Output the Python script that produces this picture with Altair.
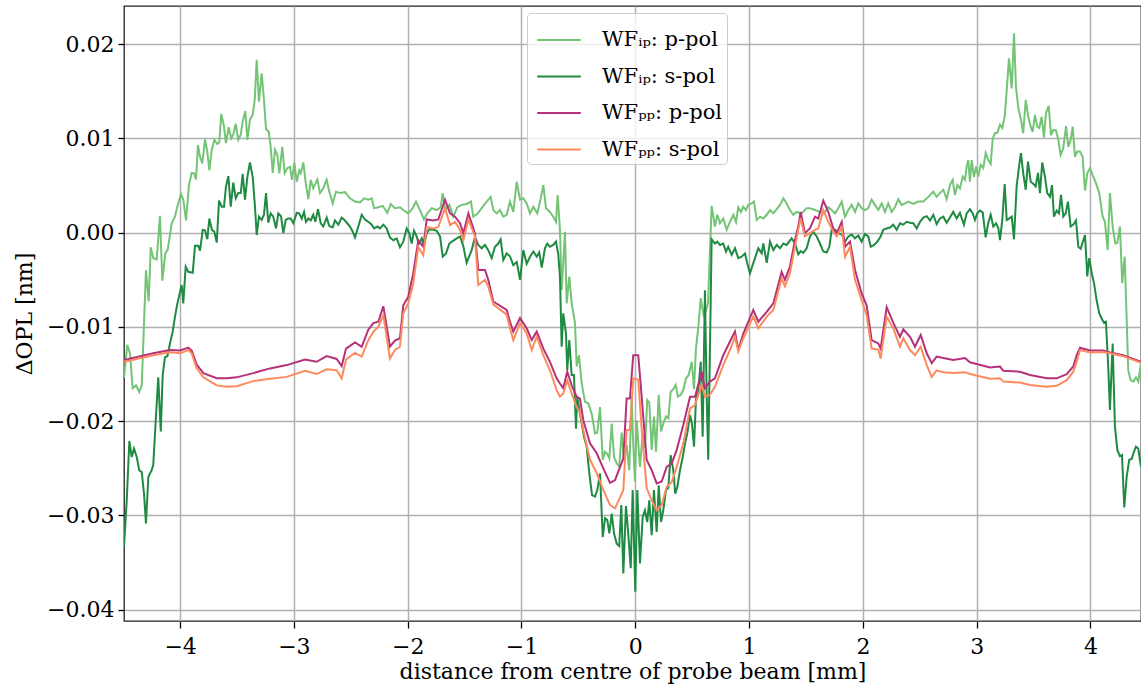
import altair as alt
import pandas as pd

# WF_ip, p-pol : (distance [mm], dOPL [nm])
IP_P = [
(-4.493, -0.0154), (-4.464, -0.0119), (-4.440, -0.0128), (-4.417, -0.0165), (-4.387, -0.0162), (-4.359, -0.0169), (-4.337, -0.0162), (-4.300, -0.0040), (-4.276, -0.0073), (-4.258, -0.00155),
(-4.236, -0.0027), (-4.206, -0.00285), (-4.177, 0.00177), (-4.156, -0.0051), (-4.130, -0.0022), (-4.109, -0.0018), (-4.074, 0.0010), (-4.045, 0.0017), (-4.025, 0.00275), (-3.992, 0.0041),
(-3.972, 0.0035), (-3.948, 0.0013), (-3.922, 0.00505), (-3.898, 0.00635), (-3.878, 0.0063), (-3.860, 0.00565), (-3.843, 0.0093), (-3.825, 0.00805), (-3.805, 0.00735), (-3.781, 0.0099),
(-3.761, 0.0086), (-3.743, 0.0066), (-3.722, 0.0088), (-3.699, 0.00985), (-3.673, 0.0094), (-3.656, 0.0096), (-3.638, 0.0126), (-3.614, 0.01125), (-3.597, 0.0095), (-3.573, 0.0112),
(-3.550, 0.0100), (-3.533, 0.0104), (-3.511, 0.01155), (-3.489, 0.00985), (-3.467, 0.0104), (-3.450, 0.0118), (-3.427, 0.0129), (-3.409, 0.00985), (-3.386, 0.0120), (-3.362, 0.0125),
(-3.344, 0.0141), (-3.327, 0.01835), (-3.307, 0.0139), (-3.283, 0.0169), (-3.263, 0.0141), (-3.245, 0.0110), (-3.221, 0.0107), (-3.204, 0.0091), (-3.186, 0.00635), (-3.166, 0.0088),
(-3.146, 0.0083), (-3.128, 0.0063), (-3.102, 0.0091), (-3.081, 0.0063), (-3.058, 0.00685), (-3.034, 0.0070), (-3.017, 0.0056), (-2.996, 0.0074), (-2.975, 0.0054), (-2.953, 0.0066),
(-2.940, 0.0063), (-2.917, 0.00745), (-2.896, 0.00525), (-2.873, 0.00355), (-2.852, 0.0056), (-2.830, 0.0047), (-2.794, 0.00565), (-2.771, 0.0042), (-2.747, 0.0046), (-2.712, 0.0056),
(-2.689, 0.00435), (-2.659, 0.0031), (-2.630, 0.00435), (-2.595, 0.0042), (-2.551, 0.0043), (-2.507, 0.00365), (-2.463, 0.0033), (-2.419, 0.0032), (-2.384, 0.00365), (-2.346, 0.0035),
(-2.316, 0.00365), (-2.296, 0.0026), (-2.258, 0.0027), (-2.220, 0.00285), (-2.179, 0.0021), (-2.149, 0.00305), (-2.112, 0.0026), (-2.068, 0.0027), (-2.039, 0.0024), (-1.995, 0.00205),
(-1.956, 0.0026), (-1.927, 0.0033), (-1.892, 0.0024), (-1.857, 0.0014), (-1.828, 0.00205), (-1.789, 0.0026), (-1.745, 0.0024), (-1.710, 0.0027), (-1.692, 0.0042), (-1.672, 0.0024),
(-1.634, 0.00295), (-1.599, 0.0017), (-1.564, 0.0027), (-1.525, 0.00295), (-1.482, 0.00305), (-1.444, 0.0033), (-1.424, 0.0017), (-1.388, 0.0020), (-1.350, 0.0026), (-1.306, 0.0033),
(-1.271, 0.0038), (-1.248, 0.0024), (-1.218, 0.00205), (-1.189, 0.0024), (-1.160, 0.0017), (-1.130, 0.0019), (-1.101, 0.0033), (-1.072, 0.0022), (-1.042, 0.0054), (-1.013, 0.0035),
(-0.984, 0.00365), (-0.954, 0.0031), (-0.925, 0.00205), (-0.896, 0.00275), (-0.861, 0.00205), (-0.837, 0.0033), (-0.808, 0.00505), (-0.785, 0.0026), (-0.750, 0.0022), (-0.721, 0.0017),
(-0.697, 0.00115), (-0.682, 0.0040), (-0.662, 0.0003), (-0.647, -0.0061), (-0.633, -0.00325), (-0.618, 0.0001), (-0.603, -0.0075), (-0.580, -0.00465), (-0.559, -0.0075), (-0.530, -0.0096),
(-0.515, -0.0142), (-0.495, -0.0130), (-0.471, -0.0160), (-0.442, -0.01795), (-0.413, -0.0181), (-0.383, -0.0192), (-0.354, -0.0213), (-0.334, -0.0212), (-0.310, -0.0185), (-0.286, -0.0241),
(-0.266, -0.02325), (-0.246, -0.0235), (-0.228, -0.02395), (-0.207, -0.02025), (-0.187, -0.0238), (-0.163, -0.0245), (-0.141, -0.02485), (-0.120, -0.0212), (-0.099, -0.0241), (-0.076, -0.02255),
(-0.053, -0.0252), (-0.032, -0.01775), (-0.018, -0.02235), (-0.003, -0.0264), (0.012, -0.0199), (0.041, -0.02485), (0.065, -0.0213), (0.085, -0.0229), (0.105, -0.01775), (0.123, -0.0180),
(0.144, -0.02305), (0.164, -0.0195), (0.182, -0.02325), (0.206, -0.0172), (0.226, -0.0211), (0.246, -0.02025), (0.270, -0.0195), (0.290, -0.0197), (0.311, -0.0169), (0.334, -0.0166),
(0.355, -0.01615), (0.375, -0.0174), (0.399, -0.0172), (0.422, -0.0167), (0.446, -0.01545), (0.469, -0.0151), (0.496, -0.0137), (0.516, -0.0166), (0.533, -0.0123), (0.554, -0.0100),
(0.575, -0.00695), (0.604, -0.0090), (0.639, -0.0075), (0.671, 0.00285), (0.700, 0.00065), (0.721, 0.0019), (0.744, 0.0010), (0.773, 0.0015), (0.803, 0.0003), (0.832, 0.00115),
(0.861, 0.0019), (0.885, 0.00115), (0.905, 0.0027), (0.929, 0.0022), (0.949, 0.00275), (0.973, 0.0024), (0.993, 0.00295), (1.023, 0.0031), (1.043, 0.0033), (1.067, 0.00135),
(1.096, 0.0017), (1.125, 0.0015), (1.155, 0.0019), (1.184, 0.0024), (1.213, 0.00205), (1.243, 0.0025), (1.272, 0.00295), (1.301, 0.00365), (1.330, 0.0031), (1.359, 0.0024),
(1.388, 0.0019), (1.418, 0.0022), (1.462, 0.00205), (1.506, 0.0026), (1.535, 0.0026), (1.579, 0.0024), (1.623, 0.0022), (1.667, 0.0022), (1.696, 0.0027), (1.726, 0.0024),
(1.755, 0.00205), (1.784, 0.0026), (1.814, 0.0033), (1.843, 0.0017), (1.872, 0.0024), (1.902, 0.00295), (1.931, 0.0022), (1.960, 0.0031), (1.989, 0.0026), (2.018, 0.0024),
(2.047, 0.0026), (2.077, 0.0035), (2.106, 0.00295), (2.135, 0.0024), (2.165, 0.0031), (2.194, 0.0022), (2.223, 0.0031), (2.253, 0.0022), (2.282, 0.0027), (2.311, 0.00355),
(2.341, 0.00295), (2.370, 0.0031), (2.399, 0.0033), (2.443, 0.00305), (2.487, 0.0033), (2.531, 0.0033), (2.575, 0.0038), (2.619, 0.00435), (2.648, 0.0038), (2.677, 0.0042),
(2.707, 0.00455), (2.736, 0.00355), (2.765, 0.00505), (2.789, 0.0056), (2.809, 0.0040), (2.830, 0.00505), (2.853, 0.0047), (2.877, 0.00595), (2.897, 0.0056), (2.912, 0.0070),
(2.926, 0.0077), (2.941, 0.0054), (2.956, 0.0077), (2.976, 0.0059), (2.994, 0.0070), (3.014, 0.00595), (3.035, 0.0072), (3.058, 0.00685), (3.079, 0.00845), (3.102, 0.0077),
(3.123, 0.0073), (3.141, 0.0100), (3.161, 0.01055), (3.181, 0.0106), (3.205, 0.01145), (3.225, 0.0111), (3.246, 0.0123), (3.264, 0.01515), (3.284, 0.0185), (3.308, 0.0153),
(3.328, 0.02115), (3.345, 0.0155), (3.366, 0.0132), (3.387, 0.01215), (3.409, 0.01055), (3.431, 0.0141), (3.453, 0.0123), (3.475, 0.01125), (3.492, 0.0107), (3.512, 0.0125),
(3.533, 0.01125), (3.550, 0.0111), (3.571, 0.0123), (3.591, 0.0101), (3.609, 0.0127), (3.633, 0.01345), (3.653, 0.01035), (3.673, 0.0109), (3.697, 0.01085), (3.717, 0.00985),
(3.738, 0.00825), (3.761, 0.00895), (3.785, 0.0113), (3.805, 0.0091), (3.826, 0.00985), (3.844, 0.01125), (3.864, 0.00805), (3.884, 0.0086), (3.908, 0.0086), (3.931, 0.00805),
(3.952, 0.00445), (3.972, 0.0063), (3.996, 0.00685), (4.019, 0.0061), (4.048, 0.00525), (4.077, 0.0042), (4.107, 0.0017), (4.127, 0.00115), (4.151, -0.00185), (4.171, 0.0042),
(4.195, 0.00065), (4.218, -0.00115), (4.236, -0.0011), (4.259, 0.00065), (4.279, -0.00535), (4.301, -0.00255), (4.332, -0.0146), (4.353, -0.01565), (4.376, -0.0158), (4.400, -0.01535),
(4.420, -0.0158), (4.444, -0.01385),
]

# WF_ip, s-pol
IP_S = [
(-4.493, -0.0333), (-4.469, -0.0284), (-4.446, -0.0221), (-4.425, -0.0238), (-4.405, -0.0229), (-4.381, -0.0238), (-4.359, -0.0252), (-4.337, -0.0254), (-4.317, -0.0277), (-4.300, -0.03085),
(-4.279, -0.0259), (-4.250, -0.0252), (-4.236, -0.02465), (-4.212, -0.0195), (-4.192, -0.01535), (-4.170, -0.0211), (-4.153, -0.0151), (-4.133, -0.0132), (-4.112, -0.0131), (-4.089, -0.01175),
(-4.065, -0.0105), (-4.045, -0.0089), (-4.025, -0.0076), (-4.007, -0.0066), (-3.986, -0.00555), (-3.972, -0.0075), (-3.951, -0.0036), (-3.928, -0.00415), (-3.889, -0.00425), (-3.869, -0.0014),
(-3.840, -0.0014), (-3.825, -0.0019), (-3.801, 0.0003), (-3.781, 0.00025), (-3.761, -0.0007), (-3.743, 0.0015), (-3.720, 0.0003), (-3.699, 0.0001), (-3.678, -0.00105), (-3.658, 0.0034),
(-3.634, 0.00275), (-3.614, 0.00275), (-3.597, 0.0049), (-3.576, 0.0060), (-3.555, 0.00275), (-3.533, 0.0053), (-3.511, 0.00365), (-3.489, 0.0042), (-3.467, 0.0042), (-3.450, 0.00625),
(-3.430, 0.0035), (-3.409, 0.0059), (-3.386, 0.00745), (-3.362, 0.0059), (-3.342, 0.00275), (-3.327, -0.00025), (-3.307, 0.0017), (-3.283, 0.00135), (-3.263, 0.0019), (-3.245, 0.0042),
(-3.225, 0.00105), (-3.204, 0.00205), (-3.181, 0.0017), (-3.157, 0.00045), (-3.137, 0.00205), (-3.113, 0.00175), (-3.093, -0.00005), (-3.072, 0.00135), (-3.049, 0.0015), (-3.028, 0.0015),
(-3.005, 0.0010), (-2.975, 0.0021), (-2.953, 0.00205), (-2.931, 0.0015), (-2.911, 0.0022), (-2.894, 0.00115), (-2.873, 0.0015), (-2.852, 0.0013), (-2.830, 0.0019), (-2.812, 0.00115),
(-2.788, 0.0025), (-2.764, 0.0010), (-2.742, 0.00065), (-2.712, 0.0016), (-2.689, 0.0007), (-2.659, 0.00055), (-2.639, 0.0013), (-2.610, 0.00085), (-2.580, 0.0016), (-2.560, 0.0014),
(-2.531, 0.0010), (-2.507, 0.00065), (-2.483, 0.0001), (-2.463, -0.0005), (-2.434, 0.00065), (-2.404, 0.0019), (-2.375, 0.0014), (-2.346, 0.00115), (-2.316, 0.00085), (-2.296, 0.00045),
(-2.267, 0.00065), (-2.243, 0.00045), (-2.214, 0.00085), (-2.185, 0.00045), (-2.156, -0.0005), (-2.127, -0.0008), (-2.097, -0.0006), (-2.068, -0.00155), (-2.039, -0.00095), (-2.009, 0.00045),
(-1.986, -0.00005), (-1.965, -0.00115), (-1.945, 0.0002), (-1.921, -0.0004), (-1.903, -0.0012), (-1.877, -0.0006), (-1.857, -0.00145), (-1.833, -0.00005), (-1.810, 0.00035), (-1.775, 0.0003),
(-1.745, 0.0002), (-1.716, -0.0004), (-1.692, -0.00255), (-1.663, -0.0022), (-1.634, -0.00115), (-1.599, -0.00085), (-1.569, -0.0006), (-1.540, -0.0004), (-1.511, -0.00145), (-1.482, -0.0032),
(-1.438, -0.00185), (-1.409, -0.0005), (-1.380, -0.0013), (-1.350, -0.00165), (-1.321, -0.0013), (-1.292, -0.00185), (-1.262, -0.0027), (-1.233, -0.0015), (-1.204, -0.00115), (-1.183, -0.0007),
(-1.160, -0.0029), (-1.130, -0.0022), (-1.101, -0.0025), (-1.072, -0.00345), (-1.042, -0.0031), (-1.013, -0.0050), (-0.984, -0.00185), (-0.954, -0.0033), (-0.925, -0.00255), (-0.896, -0.0020),
(-0.866, -0.00255), (-0.844, -0.0021), (-0.822, -0.0037), (-0.794, -0.00165), (-0.773, -0.00115), (-0.750, -0.0015), (-0.721, -0.0013), (-0.697, -0.00095), (-0.677, -0.0023), (-0.662, -0.00465),
(-0.647, -0.0121), (-0.633, -0.00855), (-0.609, -0.0107), (-0.598, -0.0146), (-0.580, -0.0114), (-0.559, -0.0151), (-0.539, -0.0151), (-0.521, -0.0208), (-0.510, -0.0174), (-0.492, -0.0188),
(-0.471, -0.02025), (-0.451, -0.02165), (-0.427, -0.0227), (-0.404, -0.02555), (-0.380, -0.02785), (-0.354, -0.0280), (-0.334, -0.0273), (-0.310, -0.02555), (-0.286, -0.0323), (-0.266, -0.0303),
(-0.246, -0.0305), (-0.228, -0.0319), (-0.207, -0.0298), (-0.187, -0.0319), (-0.163, -0.0330), (-0.141, -0.03325), (-0.123, -0.0289), (-0.105, -0.03615), (-0.082, -0.0290), (-0.062, -0.0319),
(-0.040, -0.0356), (-0.023, -0.0273), (0.000, -0.0381), (0.018, -0.0273), (0.041, -0.0351), (0.065, -0.03015), (0.085, -0.02945), (0.105, -0.0307), (0.123, -0.0284), (0.144, -0.0321),
(0.164, -0.0273), (0.188, -0.03175), (0.206, -0.0268), (0.226, -0.0307), (0.246, -0.02945), (0.270, -0.0273), (0.290, -0.0271), (0.311, -0.0236), (0.334, -0.0252), (0.351, -0.0277),
(0.369, -0.0270), (0.393, -0.0252), (0.417, -0.0238), (0.437, -0.02235), (0.457, -0.0213), (0.481, -0.01935), (0.498, -0.02025), (0.516, -0.0227), (0.533, -0.01775), (0.554, -0.0167),
(0.575, -0.0137), (0.592, -0.02165), (0.612, -0.0061), (0.627, -0.01705), (0.641, -0.0241), (0.671, -0.0007), (0.700, -0.00115), (0.721, -0.00095), (0.744, -0.0013), (0.773, -0.00115),
(0.797, -0.0020), (0.817, -0.0015), (0.847, -0.00235), (0.876, -0.00165), (0.905, -0.0027), (0.935, -0.00255), (0.964, -0.0022), (0.984, -0.00325), (1.008, -0.0043), (1.032, -0.0034),
(1.052, -0.0027), (1.081, -0.00165), (1.111, -0.0022), (1.125, -0.00115), (1.155, -0.0032), (1.184, -0.00095), (1.213, -0.00185), (1.243, -0.0013), (1.272, -0.00165), (1.301, -0.00115),
(1.330, -0.0013), (1.374, -0.0006), (1.403, -0.00115), (1.432, -0.0023), (1.453, -0.00195), (1.476, -0.00215), (1.506, -0.00165), (1.535, -0.0004), (1.564, 0.0001), (1.594, -0.0004),
(1.623, -0.00115), (1.652, -0.0020), (1.682, -0.0021), (1.705, -0.0015), (1.726, 0.0003), (1.755, 0.0003), (1.784, -0.00005), (1.814, -0.0002), (1.843, -0.00095), (1.872, -0.0004),
(1.902, -0.0002), (1.931, -0.0006), (1.960, -0.0003), (1.989, -0.00095), (2.018, -0.00015), (2.047, -0.0004), (2.069, -0.0015), (2.098, -0.0013), (2.127, -0.00095), (2.156, -0.0004),
(2.179, 0.0003), (2.209, 0.00045), (2.238, 0.00055), (2.267, 0.00085), (2.297, 0.0003), (2.326, 0.0010), (2.355, 0.00085), (2.385, 0.00115), (2.414, 0.00105), (2.443, 0.0010),
(2.473, 0.00045), (2.502, 0.00115), (2.531, 0.0016), (2.561, 0.00175), (2.590, 0.0013), (2.619, 0.0019), (2.648, 0.0009), (2.677, 0.0015), (2.707, 0.0017), (2.736, 0.00105),
(2.765, 0.0016), (2.794, 0.0022), (2.824, 0.0015), (2.853, 0.0021), (2.888, 0.00085), (2.912, 0.00205), (2.941, 0.0025), (2.965, 0.00205), (2.985, 0.00135), (3.005, 0.00205),
(3.029, 0.00235), (3.053, 0.00215), (3.079, -0.0005), (3.102, 0.00105), (3.123, 0.0019), (3.146, 0.00065), (3.170, 0.0010), (3.190, 0.0005), (3.205, -0.0008), (3.225, 0.00135),
(3.246, 0.00515), (3.264, 0.00135), (3.284, 0.0015), (3.308, 0.0017), (3.328, -0.0007), (3.351, 0.0049), (3.372, 0.0070), (3.389, 0.00845), (3.409, 0.0063), (3.431, 0.00455),
(3.451, 0.00755), (3.475, 0.0054), (3.497, 0.0052), (3.518, 0.0049), (3.539, 0.00635), (3.556, 0.0042), (3.576, 0.00745), (3.600, 0.00595), (3.620, 0.0042), (3.644, 0.0038),
(3.662, 0.00505), (3.679, 0.0017), (3.703, 0.00235), (3.723, 0.00205), (3.741, 0.0040), (3.761, 0.0017), (3.782, 0.00205), (3.802, 0.0033), (3.826, 0.00065), (3.849, 0.00085),
(3.873, 0.0013), (3.893, -0.0015), (3.914, -0.0017), (3.937, -0.0008), (3.952, -0.00025), (3.972, -0.00465), (3.989, -0.0027), (4.011, -0.0043), (4.031, -0.00535), (4.054, -0.00715),
(4.077, -0.00855), (4.098, -0.0091), (4.119, -0.00955), (4.136, -0.00945), (4.156, -0.0142), (4.171, -0.0188), (4.195, -0.01175), (4.215, -0.0206), (4.236, -0.02305), (4.259, -0.0237),
(4.277, -0.0236), (4.297, -0.02915), (4.318, -0.0259), (4.341, -0.0241), (4.362, -0.0240), (4.382, -0.02325), (4.400, -0.0227), (4.420, -0.0229), (4.444, -0.02485),
]

# WF_pp : (distance [mm], p-pol [nm], s-pol [nm])
PP = [
(-4.493, -0.0135, -0.0137), (-4.236, -0.0128, -0.0130), (-4.089, -0.01245, -0.0127), (-4.001, -0.0125, -0.0128), (-3.928, -0.0122, -0.01245),
(-3.898, -0.0125, -0.0128), (-3.854, -0.0140, -0.0144), (-3.796, -0.0149, -0.01535), (-3.678, -0.01545, -0.0162), (-3.591, -0.01545, -0.01635),
(-3.503, -0.01535, -0.0163), (-3.357, -0.0149, -0.01575), (-3.210, -0.0144, -0.0155), (-3.063, -0.01405, -0.0153), (-2.902, -0.01345, -0.01465),
(-2.800, -0.0137, -0.0150), (-2.712, -0.0131, -0.0145), (-2.624, -0.0134, -0.0146), (-2.580, -0.01415, -0.01545), (-2.542, -0.0123, -0.01345),
(-2.463, -0.01165, -0.01275), (-2.404, -0.0121, -0.01315), (-2.346, -0.0103, -0.0114), (-2.302, -0.0096, -0.0105), (-2.258, -0.00945, -0.0100),
(-2.214, -0.0078, -0.00875), (-2.156, -0.0121, -0.01335), (-2.112, -0.01145, -0.01245), (-2.068, -0.0112, -0.0121), (-2.039, -0.0077, -0.00855),
(-1.995, -0.0068, -0.0075), (-1.951, -0.0043, -0.0054), (-1.907, -0.0008, -0.0015), (-1.863, -0.0015, -0.0024), (-1.833, 0.0014, 0.0006),
(-1.775, 0.0013, 0.00045), (-1.731, 0.0014, 0.0006), (-1.672, 0.0035, 0.0026), (-1.628, 0.00205, 0.0008), (-1.584, 0.0017, 0.00115),
(-1.540, 0.0010, 0.0003), (-1.511, -0.00005, -0.0008), (-1.467, 0.00205, 0.0014), (-1.409, -0.00005, -0.0004), (-1.380, -0.00395, -0.00555),
(-1.321, -0.00395, -0.0050), (-1.292, -0.0050, -0.0057), (-1.248, -0.0073, -0.0076), (-1.130, -0.0082, -0.0087), (-1.101, -0.00945, -0.01015),
(-1.072, -0.0105, -0.0114), (-1.013, -0.00905, -0.0096), (-0.954, -0.01015, -0.0107), (-0.910, -0.0114, -0.01245), (-0.866, -0.0105, -0.0110),
(-0.808, -0.0123, -0.0130), (-0.750, -0.0137, -0.0146), (-0.691, -0.01545, -0.0167), (-0.662, -0.0160, -0.0174), (-0.633, -0.0165, -0.01705),
(-0.598, -0.01475, -0.01565), (-0.559, -0.0162, -0.01705), (-0.515, -0.0174, -0.0185), (-0.486, -0.0176, -0.0190), (-0.457, -0.0199, -0.02095),
(-0.398, -0.02235, -0.0241), (-0.339, -0.0234, -0.0255), (-0.281, -0.0250, -0.0273), (-0.222, -0.02655, -0.0289), (-0.178, -0.02625, -0.02925),
(-0.105, -0.02395, -0.0273), (-0.076, -0.0176, -0.02095), (-0.047, -0.0176, -0.0209), (-0.018, -0.0130, -0.01545), (0.026, -0.0130, -0.0156),
(0.056, -0.0174, -0.0208), (0.100, -0.0241, -0.0271), (0.144, -0.0252, -0.0284), (0.188, -0.0266, -0.02945), (0.232, -0.0264, -0.0289),
(0.276, -0.02485, -0.02695), (0.320, -0.0245, -0.02645), (0.364, -0.02305, -0.02485), (0.422, -0.0204, -0.02235), (0.481, -0.0174, -0.01865),
(0.525, -0.0174, -0.0183), (0.583, -0.01475, -0.01615), (0.612, -0.0165, -0.0174), (0.656, -0.0158, -0.0172), (0.700, -0.01545, -0.01635),
(0.773, -0.0130, -0.01405), (0.832, -0.01155, -0.01245), (0.876, -0.0105, -0.01105), (0.905, -0.01245, -0.0126), (0.949, -0.0107, -0.0112),
(1.037, -0.0082, -0.0089), (1.081, -0.00945, -0.01015), (1.155, -0.0084, -0.0089), (1.213, -0.0075, -0.0082), (1.286, -0.00415, -0.00485),
(1.315, -0.0050, -0.0057), (1.359, -0.0036, -0.0043), (1.403, -0.0008, -0.0015), (1.432, 0.00065, 0.0003), (1.453, 0.0022, 0.0015),
(1.491, -0.00005, -0.0004), (1.535, 0.00045, -0.00005), (1.579, 0.0017, 0.0003), (1.608, 0.0015, 0.00045), (1.652, 0.0034, 0.0024),
(1.696, 0.0022, 0.00115), (1.740, 0.00045, 0.0001), (1.770, -0.00005, -0.0004), (1.814, 0.00115, 0.0006), (1.843, -0.0015, -0.00255),
(1.887, -0.00095, -0.0015), (1.931, -0.00395, -0.0050), (1.989, -0.00645, -0.00715), (2.033, -0.0077, -0.00875), (2.077, -0.0114, -0.0123),
(2.135, -0.01175, -0.0124), (2.156, -0.0123, -0.01335), (2.209, -0.0079, -0.0089), (2.267, -0.00955, -0.01015), (2.326, -0.01105, -0.0121),
(2.355, -0.01025, -0.0112), (2.414, -0.01105, -0.01245), (2.458, -0.0121, -0.0130), (2.508, -0.01085, -0.0121), (2.561, -0.0128, -0.01405),
(2.605, -0.01385, -0.0153), (2.648, -0.01315, -0.0146), (2.707, -0.0133, -0.0148), (2.794, -0.0135, -0.0149), (2.897, -0.0133, -0.0148),
(2.941, -0.01375, -0.0150), (3.117, -0.0143, -0.0155), (3.205, -0.0142, -0.01545), (3.234, -0.01465, -0.0158), (3.380, -0.01475, -0.0159),
(3.468, -0.0151, -0.01615), (3.615, -0.01545, -0.01635), (3.703, -0.01545, -0.01625), (3.791, -0.0150, -0.01565), (3.849, -0.0142, -0.01475),
(3.879, -0.0130, -0.0137), (3.908, -0.0122, -0.01245), (3.996, -0.0125, -0.0127), (4.112, -0.0125, -0.01265), (4.171, -0.0127, -0.0128),
(4.288, -0.0130, -0.0131), (4.444, -0.0137, -0.0138),
]

SERIES = ["WF\u1d62\u209a: p-pol", "WF\u1d62\u209a: s-pol", "WF\u209a\u209a: p-pol", "WF\u209a\u209a: s-pol"]
COLORS = ["#74c476", "#1f8a42", "#b5317a", "#fc8a5f"]
X_TICKS = [-4, -3, -2, -1, 0, 1, 2, 3, 4]
Y_TICKS = [-0.04, -0.03, -0.02, -0.01, 0.0, 0.01, 0.02]
X_DOMAIN = [-4.493, 4.444]
Y_DOMAIN = [-0.0412, 0.02405]

frames = [
    pd.DataFrame({"x": [p[0] for p in IP_P], "y": [p[1] for p in IP_P], "series": SERIES[0]}),
    pd.DataFrame({"x": [p[0] for p in IP_S], "y": [p[1] for p in IP_S], "series": SERIES[1]}),
    pd.DataFrame({"x": [p[0] for p in PP], "y": [p[1] for p in PP], "series": SERIES[2]}),
    pd.DataFrame({"x": [p[0] for p in PP], "y": [p[2] for p in PP], "series": SERIES[3]}),
]

FONT = "DejaVu Serif"

x_enc = alt.X(
    "x:Q",
    scale=alt.Scale(domain=X_DOMAIN, nice=False, zero=False),
    axis=alt.Axis(values=X_TICKS, format="d", title="distance from centre of probe beam [mm]",
                  titlePadding=4, labelPadding=8, tickSize=7),
)
y_enc = alt.Y(
    "y:Q",
    scale=alt.Scale(domain=Y_DOMAIN, nice=False, zero=False),
    axis=alt.Axis(values=Y_TICKS, format=".2f", title="\u0394OPL [nm]", titlePadding=10,
                  labelPadding=4, tickSize=6),
)
color_enc = alt.Color(
    "series:N",
    scale=alt.Scale(domain=SERIES, range=COLORS),
    legend=alt.Legend(
        title=None, orient="none", legendX=403, legendY=7,
        symbolType="stroke", symbolSize=1900, symbolStrokeWidth=2, symbolOffset=5,
        labelFont=FONT, labelFontSize=21, labelColor="black", labelOffset=20, labelLimit=400,
        rowPadding=3.5, padding=4, fillColor="rgba(255,255,255,0.8)",
        strokeColor="#cccccc", cornerRadius=4,
    ),
)

layers = [
    alt.Chart(f).mark_line(strokeWidth=2, clip=True).encode(x=x_enc, y=y_enc, color=color_enc)
    for f in frames
]

chart = (
    alt.layer(*layers)
    .properties(
        width=1017, height=615, autosize="none",
        padding={"left": 124, "top": 6, "right": 0, "bottom": 64},
        background="white",
    )
    .configure_view(stroke="#222222", strokeWidth=1.3)
    .configure_axis(
        labelFont=FONT, labelFontSize=22, labelColor="black",
        titleFont=FONT, titleFontSize=22, titleFontWeight="normal", titleColor="black",
        tickColor="black", tickWidth=1.3,
        domain=False, grid=True, gridColor="#b0b0b0", gridWidth=1.5,
    )
)

chart.save("out.html", embed_options={"renderer": "svg", "actions": False})
